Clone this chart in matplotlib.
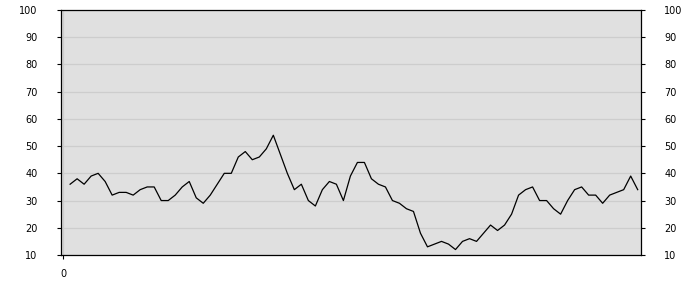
"""Single line series on a grey panel with mirrored y labels."""

import numpy as np
import matplotlib
matplotlib.use("Agg")
import matplotlib.pyplot as plt

# values, one per step starting at x = 1
values = [
    36, 38, 36, 39, 40, 37, 32, 33, 33, 32,
    34, 35, 35, 30, 30, 32, 35, 37, 31, 29,
    32, 36, 40, 40, 46, 48, 45, 46, 49, 54,
    47, 40, 34, 36, 30, 28, 34, 37, 36, 30,
    39, 44, 44, 38, 36, 35, 30, 29, 27, 26,
    18, 13, 14, 15, 14, 12, 15, 16, 15, 18,
    21, 19, 21, 25, 32, 34, 35, 30, 30, 27,
    25, 30, 34, 35, 32, 32, 29, 32, 33, 34,
    39, 34,
]
x_ticks = [0]
y_ticks = list(range(10, 101, 10))


def main() -> None:
    x = np.arange(1, len(values) + 1)

    fig = plt.figure(figsize=(7, 3), dpi=100)
    ax = fig.add_axes([61 / 700, 45 / 300, 579.5 / 700, 245 / 300])
    ax.set_facecolor("#e0e0e0")

    ax.plot(x, values, color="black", lw=0.9)

    ax.set_xlim(-0.3, 82.4)
    ax.set_ylim(10, 100)
    ax.set_xticks(x_ticks)
    ax.set_yticks(y_ticks)

    ax.grid(True, color="#cdcdcd", lw=0.9)
    ax.set_axisbelow(True)

    for spine in ax.spines.values():
        spine.set_color("black")
        spine.set_linewidth(0.9)

    ax.tick_params(axis="y", which="both", left=True, right=True,
                   labelleft=True, labelright=True, length=3,
                   width=0.8, labelsize=7, pad=14)
    ax.tick_params(axis="x", length=3, width=0.8, labelsize=7, pad=7)

    fig.savefig("out.png", dpi=100, facecolor="white")


if __name__ == "__main__":
    main()
